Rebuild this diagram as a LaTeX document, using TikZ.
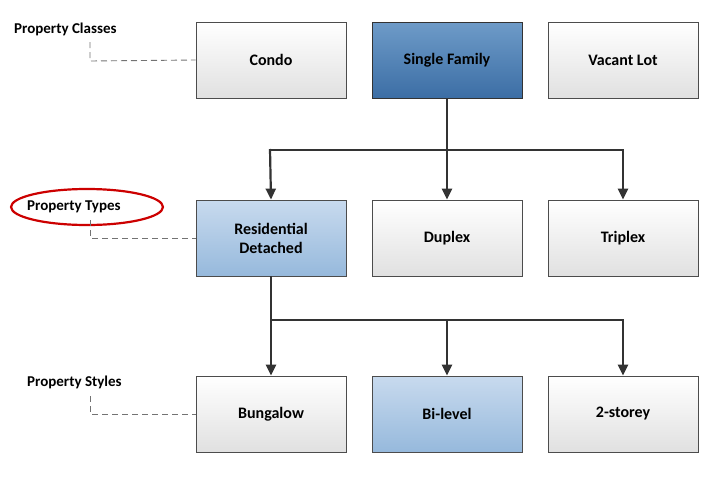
\documentclass[tikz,border=0pt]{standalone}
\usepackage{fontspec}
\setmainfont{Carlito}
\usetikzlibrary{arrows.meta,shapes.geometric}
\definecolor{dtop}{RGB}{110,155,200}
\definecolor{dbot}{RGB}{60,110,165}
\definecolor{ltop}{RGB}{200,218,238}
\definecolor{lbot}{RGB}{150,185,220}
\begin{document}
\begin{tikzpicture}[x=1pt,y=-1pt,
  box/.style={draw=black!70,line width=0.8pt,minimum width=150pt,minimum height=76pt,align=center,font=\bfseries\fontsize{16}{19}\selectfont,
    top color=white,bottom color=black!12},
  dark/.style={box,top color=dtop,bottom color=dbot,draw=black!80},
  light/.style={box,top color=ltop,bottom color=lbot},
  lbl/.style={font=\bfseries\fontsize{15}{17}\selectfont,anchor=west,inner sep=0pt},
  dashline/.style={draw=black!55,dash pattern=on 6pt off 4pt,line width=0.9pt},
  conn/.style={draw=black!80,line width=2.2pt},
  arr/.style={conn,-{Triangle[length=11pt,width=10pt]}}]
\useasboundingbox (0,0) rectangle (720,477);
\node[box] (condo) at (271,60) {Condo};
\node[dark] (sf) at (447,60) {Single Family};
\node[box] (vl) at (623,60) {Vacant Lot};
\node[light] (rd) at (271,238) {Residential\\Detached};
\node[box] (dup) at (447,238) {Duplex};
\node[box] (tri) at (623,238) {Triplex};
\node[box] (bun) at (271,414) {Bungalow};
\node[light] (bi) at (447,414) {Bi-level};
\node[box] (two) at (623,414) {2-storey};
\node[lbl] (pc) at (14,29) {Property Classes};
\node[lbl] (pt) at (27,207) {Property Types};
\node[lbl] (ps) at (27,382) {Property Styles};
\node[draw=red!80!black,line width=2.2pt,ellipse,minimum width=152pt,minimum height=36pt] (el) at (87,207) {};
\coordinate (j1) at (447,150);
\coordinate (j2) at (271,320);
\draw[dashline] (90,42) -- (90,61) -- (condo.west);
\draw[dashline] (90,220) -- (90,238) -- (rd.west);
\draw[dashline] (90,396) -- (90,414) -- (bun.west);
\draw[conn] (sf.south) -- (j1);
\draw[conn] (270,150) -- (624,150);
\draw[arr] (270,149) -- (rd.north);
\draw[arr] (j1) -- (dup.north);
\draw[arr] (623,149) -- (tri.north);
\draw[conn] (rd.south) -- (j2);
\draw[conn] (270,320) -- (624,320);
\draw[arr] (j2) -- (bun.north);
\draw[arr] (447,319) -- (bi.north);
\draw[arr] (623,319) -- (two.north);
\end{tikzpicture}
\end{document}
